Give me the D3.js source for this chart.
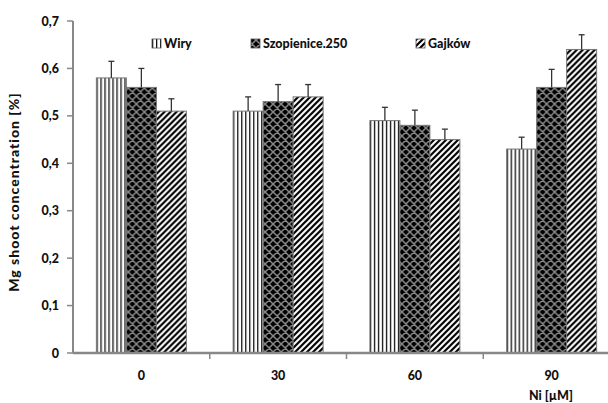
<!DOCTYPE html>
<html>
<head>
<meta charset="utf-8">
<script src="https://cdn.jsdelivr.net/npm/d3@7"></script>
<style>
  body { margin: 0; background: #fff; }
  text { font-family: Lato, "Open Sans", sans-serif; font-weight: 900; fill: #111; }
</style>
</head>
<body>
<svg id="chart" width="608" height="403"></svg>
<script>
const categories = ["0", "30", "60", "90"];
const seriesNames = ["Wiry", "Szopienice.250", "Gajków"];
const wiry = [0.58, 0.51, 0.49, 0.43];
const szopienice = [0.56, 0.53, 0.48, 0.56];
const gajkow = [0.51, 0.54, 0.45, 0.64];
const wiryErr = [0.035, 0.03, 0.028, 0.025];
const szopErr = [0.04, 0.036, 0.032, 0.038];
const gajkErr = [0.026, 0.026, 0.022, 0.031];
const yTicks = [0, 0.1, 0.2, 0.3, 0.4, 0.5, 0.6, 0.7];
const yTickLabels = ["0", "0,1", "0,2", "0,3", "0,4", "0,5", "0,6", "0,7"];

const values = [wiry, szopienice, gajkow];
const errors = [wiryErr, szopErr, gajkErr];
const patternIds = ["pWiry", "pSzop", "pGajk"];

const svg = d3.select("#chart");
const defs = svg.append("defs");

// vertical lines
const p1 = defs.append("pattern").attr("id", "pWiry").attr("patternUnits", "userSpaceOnUse")
  .attr("width", 4).attr("height", 4);
p1.append("rect").attr("width", 4).attr("height", 4).attr("fill", "#fff");
p1.append("rect").attr("x", 0).attr("width", 1.3).attr("height", 4).attr("fill", "#111");

// black with grey lattice
const p2 = defs.append("pattern").attr("id", "pSzop").attr("patternUnits", "userSpaceOnUse")
  .attr("width", 8).attr("height", 8);
p2.append("rect").attr("width", 8).attr("height", 8).attr("fill", "#000");
p2.append("path").attr("d", "M0,0 L8,8 M8,0 L0,8 M-1,7 L1,9 M7,-1 L9,1 M-1,1 L1,-1 M7,9 L9,7")
  .attr("stroke", "#8a8a8a").attr("stroke-width", 1.5);

// diagonal stripes
const p3 = defs.append("pattern").attr("id", "pGajk").attr("patternUnits", "userSpaceOnUse")
  .attr("width", 6).attr("height", 6);
p3.append("rect").attr("width", 6).attr("height", 6).attr("fill", "#fff");
p3.append("path").attr("d", "M-1,1 L1,-1 M0,6 L6,0 M5,7 L7,5")
  .attr("stroke", "#000").attr("stroke-width", 2.2);

const x0 = d3.scaleBand().domain(categories).range([73, 620]).paddingInner(0).paddingOuter(0);
const x1 = d3.scaleBand().domain(seriesNames).range([0, 90]);
const y = d3.scaleLinear().domain([0, 0.7]).range([353, 21]);

// y axis
svg.append("line").attr("x1", 73).attr("x2", 73).attr("y1", y(0.7)).attr("y2", y(0))
  .attr("stroke", "#888").attr("stroke-width", 2);
svg.selectAll(".ytick").data(yTicks).enter().append("line")
  .attr("x1", 67).attr("x2", 73).attr("y1", d => y(d)).attr("y2", d => y(d))
  .attr("stroke", "#888").attr("stroke-width", 1.5);
svg.selectAll(".ylab").data(yTicks).enter().append("text")
  .attr("x", 59).attr("y", d => y(d) + 4.5).attr("text-anchor", "end")
  .attr("font-size", 12.5).text((d, i) => yTickLabels[i]);

// bars
const groups = svg.selectAll(".grp").data(categories).enter().append("g")
  .attr("transform", d => `translate(${x0(d) + (x0.bandwidth() - 90) / 2},0)`);

seriesNames.forEach((s, si) => {
  groups.append("rect")
    .attr("x", x1(s)).attr("width", x1.bandwidth())
    .attr("y", (d, i) => y(values[si][i]))
    .attr("height", (d, i) => y(0) - y(values[si][i]))
    .attr("fill", `url(#${patternIds[si]})`)
    .attr("stroke", "#777").attr("stroke-width", 1);
  groups.append("line")
    .attr("x1", x1(s) + x1.bandwidth() / 2).attr("x2", x1(s) + x1.bandwidth() / 2)
    .attr("y1", (d, i) => y(values[si][i]))
    .attr("y2", (d, i) => y(values[si][i] + errors[si][i]))
    .attr("stroke", "#333").attr("stroke-width", 1.3);
  groups.append("line")
    .attr("x1", x1(s) + x1.bandwidth() / 2 - 3).attr("x2", x1(s) + x1.bandwidth() / 2 + 3)
    .attr("y1", (d, i) => y(values[si][i] + errors[si][i]))
    .attr("y2", (d, i) => y(values[si][i] + errors[si][i]))
    .attr("stroke", "#333").attr("stroke-width", 1.3);
});

// x axis
svg.append("line").attr("x1", 73).attr("x2", 608).attr("y1", y(0)).attr("y2", y(0))
  .attr("stroke", "#888").attr("stroke-width", 2.5);
svg.selectAll(".xtick").data(categories.slice(1)).enter().append("line")
  .attr("x1", d => x0(d)).attr("x2", d => x0(d)).attr("y1", y(0)).attr("y2", y(0) + 6)
  .attr("stroke", "#888").attr("stroke-width", 1.5);
svg.selectAll(".xlab").data(categories).enter().append("text")
  .attr("x", d => x0(d) + x0.bandwidth() / 2).attr("y", 380).attr("text-anchor", "middle")
  .attr("font-size", 12.5).text(d => d);

svg.append("text").attr("x", 551).attr("y", 400).attr("text-anchor", "middle")
  .attr("font-size", 12.5).text("Ni [µM]");

svg.append("text").attr("transform", "translate(19,192) rotate(-90)")
  .attr("text-anchor", "middle").attr("font-size", 14).attr("letter-spacing", 1)
  .text("Mg shoot concentration [%]");

// legend
const legendX = [152, 251, 416];
seriesNames.forEach((s, si) => {
  svg.append("rect").attr("x", legendX[si]).attr("y", 39).attr("width", 9).attr("height", 9)
    .attr("fill", `url(#${patternIds[si]})`).attr("stroke", "#555").attr("stroke-width", 0.8);
  svg.append("text").attr("x", legendX[si] + 12).attr("y", 48)
    .attr("font-size", 12.5).text(s);
});
</script>
</body>
</html>
